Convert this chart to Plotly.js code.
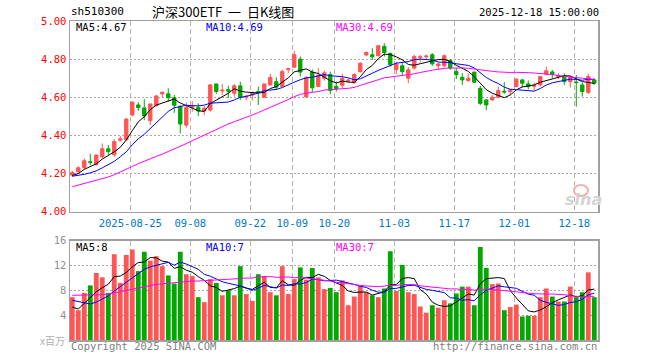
<!DOCTYPE html>
<html><head><meta charset="utf-8">
<script src="https://cdn.plot.ly/plotly-3.0.1.min.js"></script>
<style>html,body{margin:0;padding:0;background:#fff;}#chart{width:660px;height:360px;}</style>
</head><body><div id="chart"></div>
<script>
// ---- data (sh510300 daily K) ----
const tickIdx = [10, 20, 30, 37, 44, 54, 64, 74, 84];
const tickLabels = ['2025-08-25', '09-08', '09-22', '10-09', '10-20', '11-03', '11-17', '12-01', '12-18'];

const openP = [4.192,4.209,4.232,4.262,4.247,4.288,4.330,4.298,4.375,4.377,
4.507,4.560,4.544,4.477,4.556,4.618,4.618,4.598,4.550,4.454,
4.548,4.547,4.528,4.533,4.670,4.633,4.640,4.621,4.660,4.600,
4.612,4.630,4.600,4.665,4.682,4.656,4.745,4.758,4.800,4.602,
4.732,4.656,4.700,4.720,4.656,4.663,4.686,4.676,4.734,4.822,
4.823,4.818,4.867,4.830,4.745,4.765,4.700,4.753,4.808,4.812,
4.823,4.765,4.765,4.793,4.735,4.705,4.688,4.732,4.647,4.586,
4.586,4.600,4.632,4.630,4.656,4.691,4.670,4.658,4.665,4.721,
4.733,4.709,4.712,4.682,4.680,4.665,4.625,4.691];
const highP = [4.215,4.239,4.279,4.305,4.300,4.358,4.350,4.380,4.397,4.490,
4.577,4.574,4.590,4.565,4.612,4.630,4.647,4.612,4.560,4.572,
4.580,4.568,4.554,4.670,4.670,4.670,4.660,4.670,4.682,4.612,
4.630,4.656,4.670,4.723,4.705,4.745,4.756,4.844,4.814,4.710,
4.746,4.753,4.740,4.735,4.682,4.723,4.700,4.725,4.782,4.840,
4.858,4.875,4.884,4.835,4.785,4.779,4.758,4.823,4.823,4.823,
4.832,4.782,4.823,4.800,4.753,4.726,4.726,4.735,4.660,4.590,
4.612,4.656,4.680,4.642,4.700,4.695,4.688,4.677,4.709,4.761,
4.744,4.726,4.726,4.709,4.717,4.677,4.723,4.700];
const lowP = [4.183,4.205,4.221,4.244,4.240,4.280,4.300,4.290,4.367,4.377,
4.500,4.528,4.480,4.454,4.551,4.600,4.577,4.519,4.410,4.440,
4.525,4.502,4.507,4.525,4.618,4.612,4.595,4.604,4.586,4.583,
4.583,4.560,4.597,4.660,4.639,4.655,4.726,4.753,4.709,4.600,
4.628,4.654,4.688,4.615,4.630,4.647,4.676,4.672,4.730,4.815,
4.796,4.815,4.814,4.761,4.720,4.712,4.674,4.744,4.782,4.800,
4.765,4.744,4.758,4.744,4.695,4.665,4.679,4.674,4.558,4.532,
4.581,4.595,4.618,4.612,4.653,4.653,4.642,4.635,4.656,4.718,
4.700,4.695,4.665,4.651,4.551,4.604,4.618,4.665];
const closeP = [4.205,4.230,4.267,4.258,4.297,4.330,4.315,4.368,4.382,4.486,
4.575,4.546,4.502,4.565,4.607,4.626,4.598,4.558,4.460,4.546,
4.555,4.528,4.542,4.665,4.630,4.637,4.632,4.660,4.600,4.605,
4.625,4.627,4.670,4.704,4.653,4.735,4.750,4.823,4.732,4.704,
4.650,4.715,4.728,4.636,4.645,4.700,4.690,4.719,4.779,4.835,
4.812,4.870,4.835,4.770,4.775,4.735,4.744,4.814,4.812,4.816,
4.775,4.775,4.818,4.753,4.718,4.691,4.700,4.679,4.568,4.560,
4.600,4.635,4.628,4.639,4.695,4.674,4.656,4.661,4.709,4.739,
4.719,4.714,4.682,4.705,4.677,4.630,4.709,4.674];

const ma5 = [4.190,4.200,4.222,4.238,4.251,4.276,4.293,4.314,4.338,4.376,
4.425,4.471,4.498,4.535,4.559,4.569,4.580,4.591,4.570,4.558,
4.543,4.529,4.526,4.567,4.584,4.600,4.621,4.645,4.632,4.627,
4.624,4.623,4.625,4.646,4.656,4.678,4.702,4.733,4.739,4.749,
4.732,4.725,4.706,4.687,4.675,4.685,4.680,4.678,4.707,4.745,
4.767,4.803,4.826,4.824,4.812,4.797,4.772,4.768,4.776,4.784,
4.792,4.798,4.799,4.787,4.768,4.751,4.736,4.708,4.671,4.640,
4.621,4.608,4.598,4.612,4.639,4.654,4.658,4.665,4.679,4.688,
4.697,4.708,4.713,4.712,4.699,4.682,4.678,4.672];
const ma10 = [4.186,4.190,4.196,4.204,4.214,4.230,4.246,4.264,4.288,4.314,
4.351,4.382,4.406,4.437,4.468,4.497,4.526,4.545,4.552,4.558,
4.556,4.555,4.559,4.569,4.571,4.572,4.575,4.586,4.600,4.605,
4.612,4.622,4.635,4.639,4.641,4.651,4.663,4.679,4.692,4.702,
4.705,4.714,4.719,4.713,4.712,4.708,4.702,4.692,4.697,4.710,
4.726,4.741,4.752,4.766,4.779,4.782,4.787,4.797,4.800,4.798,
4.795,4.785,4.783,4.782,4.776,4.772,4.767,4.754,4.729,4.704,
4.686,4.672,4.653,4.642,4.640,4.638,4.633,4.632,4.646,4.664,
4.676,4.683,4.689,4.695,4.694,4.689,4.695,4.693];
const ma30 = [4.131,4.139,4.147,4.155,4.163,4.172,4.182,4.194,4.207,4.222,
4.237,4.252,4.266,4.279,4.290,4.302,4.315,4.328,4.342,4.357,
4.372,4.387,4.402,4.418,4.433,4.447,4.460,4.472,4.483,4.493,
4.507,4.520,4.533,4.548,4.560,4.573,4.588,4.603,4.615,4.622,
4.625,4.630,4.638,4.640,4.641,4.644,4.647,4.652,4.663,4.673,
4.681,4.692,4.702,4.706,4.711,4.714,4.718,4.723,4.730,4.737,
4.742,4.747,4.752,4.753,4.755,4.754,4.752,4.748,4.742,4.737,
4.736,4.733,4.730,4.730,4.731,4.731,4.729,4.727,4.725,4.722,
4.719,4.714,4.709,4.706,4.703,4.700,4.698,4.694];

// volume, in millions (x百万)
const volume = [6.9,4.8,7.6,8.8,10.8,10.1,7.6,13.8,9.2,13.7,
14.6,11.1,14.2,12.8,13.5,11.9,10.4,9.1,14.2,10.6,
10.3,6.9,6.1,9.8,9.2,7.2,8.0,7.2,11.9,7.4,
6.3,10.6,10.3,7.7,7.2,11.9,7.4,9.8,11.7,9.7,
11.6,10.1,8.2,8.4,7.7,9.6,5.6,7.0,8.7,7.7,
7.2,6.9,8.3,14.3,7.9,12.1,7.7,7.4,5.4,4.4,
5.6,5.2,6.4,5.9,7.5,8.6,8.6,5.6,15.0,11.6,
9.0,9.1,4.8,5.3,5.7,3.8,3.9,3.9,6.9,8.3,
7.0,6.2,6.2,8.6,6.9,7.7,10.9,6.9];
const vma5 = [5.3,5.0,5.9,6.9,7.78,8.42,8.98,10.22,10.3,10.88,
11.78,12.48,12.56,13.28,13.24,12.7,12.56,11.54,11.82,11.24,
10.92,10.22,9.62,8.74,8.46,7.84,8.06,8.28,8.7,8.34,
8.16,8.68,9.3,8.46,8.42,9.54,8.9,8.8,9.6,10.1,
10.04,10.58,10.26,9.6,9.2,8.8,7.9,7.66,7.72,7.72,
7.24,7.5,7.76,8.88,8.92,9.9,10.06,9.88,8.1,7.4,
6.1,5.6,5.4,5.5,6.12,6.72,7.4,7.24,9.06,9.88,
9.96,10.06,9.9,7.96,6.78,5.74,4.7,4.52,4.84,5.36,
6.0,6.46,6.92,7.26,6.98,7.12,8.06,8.2];
const vma10 = [6.4,6.2,6.0,5.8,6.1,6.6,7.1,7.9,8.6,9.33,
10.1,10.73,11.39,11.79,12.06,12.24,12.52,12.05,12.55,12.24,
11.81,11.39,10.58,10.28,9.85,9.38,9.14,8.95,8.72,8.4,
8.0,8.37,8.79,8.58,8.38,8.85,8.79,9.05,9.03,9.26,
9.79,9.74,9.53,9.6,9.65,9.42,9.24,8.96,8.66,8.46,
8.02,7.7,7.71,8.3,8.32,8.57,8.78,8.82,8.49,8.16,
8.0,7.83,7.64,6.8,6.76,6.41,6.5,6.32,7.28,8.0,
8.34,8.73,8.57,8.51,8.33,7.85,7.38,7.21,6.4,6.07,
5.87,5.58,5.72,6.05,6.17,6.56,7.26,7.56];
const vma30 = [7.2,7.2,7.2,7.2,7.25,7.3,7.4,7.6,7.8,8.0,
8.2,8.4,8.6,8.8,8.95,9.05,9.15,9.3,9.4,9.45,
9.5,9.5,9.55,9.6,9.6,9.65,9.7,9.8,9.9,9.99,
9.97,10.16,10.25,10.22,10.10,10.16,10.15,10.02,10.10,9.97,
9.87,9.83,9.63,9.49,9.29,9.22,9.06,8.99,8.80,8.71,
8.60,8.60,8.68,8.83,8.78,8.95,8.94,8.94,8.73,8.63,
8.60,8.42,8.29,8.23,8.24,8.13,8.17,8.03,8.14,8.21,
8.12,8.09,7.97,7.87,7.80,7.61,7.55,7.45,7.39,7.41,
7.40,7.38,7.31,7.12,7.09,6.94,7.05,7.03];

const priceTicks = [4.0, 4.2, 4.4, 4.6, 4.8, 5.0];
const volTicks = [4, 8, 12, 16];
const mainLegend = ['MA5:4.67', 'MA10:4.69', 'MA30:4.69'];
const volLegend = ['MA5:8', 'MA10:7', 'MA30:7'];

// ---- styling ----
const RED = '#ff5555', GREEN = '#00a800';
const MONO = 'DejaVu Sans Mono, monospace';
const idx = openP.map((_, i) => i);
const volColors = idx.map(i => closeP[i] >= openP[i] ? RED : GREEN);

const L = 70, R = 598, T = 21, B = 340;
const PX = x => (x - L) / (R - L);
const PY = y => (B - y) / (B - T);

const traces = [
  {type: 'candlestick', x: idx, open: openP, high: highP, low: lowP, close: closeP,
   xaxis: 'x', yaxis: 'y', whiskerwidth: 0,
   increasing: {line: {color: RED, width: 1}, fillcolor: RED},
   decreasing: {line: {color: GREEN, width: 1}, fillcolor: GREEN}, hoverinfo: 'skip'},
  {type: 'scatter', mode: 'lines', x: idx, y: ma5, xaxis: 'x', yaxis: 'y', line: {color: '#000000', width: 1}},
  {type: 'scatter', mode: 'lines', x: idx, y: ma10, xaxis: 'x', yaxis: 'y', line: {color: '#0000ff', width: 1}},
  {type: 'scatter', mode: 'lines', x: idx, y: ma30, xaxis: 'x', yaxis: 'y', line: {color: '#ff00ff', width: 1}},
  {type: 'bar', x: idx, y: volume, xaxis: 'x2', yaxis: 'y2', marker: {color: volColors, line: {width: 0}}},
  {type: 'scatter', mode: 'lines', x: idx, y: vma5, xaxis: 'x2', yaxis: 'y2', line: {color: '#000000', width: 1}},
  {type: 'scatter', mode: 'lines', x: idx, y: vma10, xaxis: 'x2', yaxis: 'y2', line: {color: '#0000ff', width: 1}},
  {type: 'scatter', mode: 'lines', x: idx, y: vma30, xaxis: 'x2', yaxis: 'y2', line: {color: '#ff00ff', width: 1}}
];

const gridX = tickIdx.map(i => i - 0.33);
const xCommon = {range: [-0.38, 87.62], tickvals: gridX, showgrid: true, gridcolor: '#b4b4b4',
  griddash: '5px,3px', gridwidth: 1, showline: true, mirror: true, linecolor: '#a0a0a0', linewidth: 1.5,
  zeroline: false, fixedrange: true};

const ann = (text, x, y, color, anchor, size, fam) => ({text, x: PX(x), y: PY(y), xref: 'paper', yref: 'paper',
  xanchor: anchor, yanchor: 'middle', showarrow: false, borderpad: 0,
  font: {family: fam || MONO, size: size || 10, color}});

const annotations = [
  ann('sh510300', 70, 12, '#000', 'left', 11),
  ann('沪深300ETF\u00a0\u00a0一\u00a0\u00a0日K线图', 151, 11.5, '#000', 'left', 13, 'Noto Sans CJK SC'),
  ann('2025-12-18 15:00:00', 600, 12, '#000', 'right', 10.5),
  ann(mainLegend[0], 75, 27, '#000000', 'left', 10.5),
  ann(mainLegend[1], 205, 27, '#0000ff', 'left', 10.5),
  ann(mainLegend[2], 335, 27, '#ff00ff', 'left', 10.5),
  ann(volLegend[0], 75, 247, '#000000', 'left', 10.5),
  ann(volLegend[1], 205, 247, '#0000ff', 'left', 10.5),
  ann(volLegend[2], 335, 247, '#ff00ff', 'left', 10.5),
  ann('Copyright 2025 SINA.COM', 70, 346, '#808080', 'left', 10.5),
  ann('http://finance.sina.com.cn', 598, 346, '#808080', 'right', 10.5),
  ann('x百万', 66, 340, '#b0b0b0', 'right', 10, 'Noto Sans CJK SC'),
  {text: 'sina', x: PX(583), y: PY(199), xref: 'paper', yref: 'paper', xanchor: 'center', yanchor: 'middle',
   showarrow: false, font: {family: 'DejaVu Sans', size: 16, color: '#d4d4d4', weight: 'bold', style: 'italic'}}
];

const layout = {
  width: 660, height: 360,
  margin: {l: L, r: 660 - R, t: T, b: 360 - B},
  paper_bgcolor: '#ffffff', plot_bgcolor: '#ffffff',
  showlegend: false, hovermode: false, boxgap: 0.2, bargap: 0.2,
  xaxis: Object.assign({}, xCommon, {anchor: 'y', ticktext: tickLabels, ticks: 'outside', ticklen: 1,
    tickcolor: 'rgba(0,0,0,0)', tickfont: {family: MONO, size: 10.5, color: '#0078c8'},
    rangeslider: {visible: false}}),
  yaxis: {domain: [PY(211.7), 1], range: [4, 5], tickvals: priceTicks, ticktext: priceTicks.map(v => v.toFixed(2)),
    showgrid: true, gridcolor: '#a8a8a8', griddash: '2px,2px', showline: true, mirror: true,
    linecolor: '#a0a0a0', linewidth: 1.5, zeroline: false, ticks: '', fixedrange: true,
    tickfont: {family: MONO, size: 10.5, color: '#ff0000'}},
  xaxis2: Object.assign({}, xCommon, {anchor: 'y2', matches: 'x', showticklabels: false, ticks: ''}),
  yaxis2: {domain: [0, PY(240.7)], range: [0, 16], tickvals: volTicks, ticktext: volTicks.map(String),
    showgrid: true, gridcolor: '#a8a8a8', griddash: '2px,2px', showline: true, mirror: true,
    linecolor: '#a0a0a0', linewidth: 1.5, zeroline: false, ticks: '', fixedrange: true,
    tickfont: {family: MONO, size: 10.5, color: '#909090'}},
  annotations,
  shapes: [{type: 'circle', xref: 'paper', yref: 'paper', x0: PX(574), x1: PX(588), y0: PY(196), y1: PY(185),
    line: {color: '#f3b0b0', width: 2}}]
};

Plotly.newPlot('chart', traces, layout, {staticPlot: true, displayModeBar: false});
</script></body></html>
